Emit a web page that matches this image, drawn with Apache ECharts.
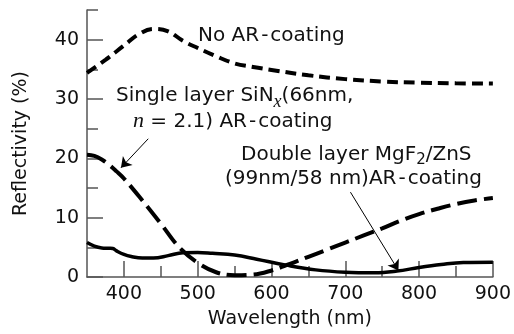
<!DOCTYPE html>
<html><head><meta charset="utf-8">
<script src="https://cdn.jsdelivr.net/npm/echarts@6/dist/echarts.min.js"></script>
<style>html,body{margin:0;padding:0;background:#fff}#c{width:514px;height:334px}</style>
</head><body><div id="c"></div>
<script>
// ---- data ----
const noArWl = [350,375,400,420,440,460,480,500,525,550,575,600,650,700,750,800,850,900];
const noArR  = [34.4,36.6,39.0,40.9,41.8,41.4,39.8,38.6,37.2,36.0,35.4,34.9,34.0,33.35,32.95,32.75,32.65,32.6];

const singleWl = [350,360,370,380,390,400,425,450,475,500,525,550,575,600,625,650,675,700,725,750,775,800,825,850,875,900];
const singleR  = [20.6,20.4,19.8,18.9,17.8,16.6,12.9,9.0,5.0,2.4,0.8,0.3,0.4,1.1,2.2,3.4,4.6,5.8,7.0,8.2,9.5,10.6,11.5,12.3,12.9,13.3];

const doubleWl = [350,360,370,380,385,390,400,410,425,440,460,480,500,520,550,580,620,660,700,740,770,800,830,860,900];
const doubleR  = [5.8,5.2,4.9,4.85,4.8,4.4,3.8,3.45,3.2,3.2,3.6,4.1,4.15,4.0,3.7,3.0,2.0,1.2,0.8,0.7,1.0,1.6,2.1,2.45,2.5];

const xMajorTicks = [400,500,600,700,800,900];
const xMinorTicks = [450,550,650,750,850];
const yMajorTicks = [0,10,20,30,40];
const yMinorTicks = [5,15,25,35,45];

// annotation arrows (data coordinates: [wavelength, reflectivity])
const singleArrow = [[433,23.3],[396,18.4]];
const doubleArrow = [[707,14.3],[772,1.1]];

const zip = (a,b) => a.map((v,i)=>[v,b[i]]);
const FONT = '"DejaVu Sans", sans-serif';
const axisCol = '#555';

const chart = echarts.init(document.getElementById('c'), null, {renderer:'canvas'});

const baseX = {type:'value', min:350, max:900, gridIndex:0, position:'bottom', splitLine:{show:false}};
const baseY = {type:'value', min:0, max:45, gridIndex:0, position:'left', splitLine:{show:false}};

const arrowLine = (pts) => ({
  silent:true, animation:false,
  symbol:['none','arrow'], symbolSize:10,
  lineStyle:{color:'#000', width:1, type:'solid'},
  label:{show:false},
  data:[[{coord:pts[0]},{coord:pts[1]}]]
});

chart.setOption({
  animation:false,
  backgroundColor:'#fff',
  grid:{left:87, right:20, top:10, bottom:57, containLabel:false},
  xAxis:[
    Object.assign({}, baseX, {
      axisLine:{show:true, lineStyle:{color:axisCol, width:1.5}},
      axisTick:{show:true, inside:true, length:16, customValues:xMajorTicks, lineStyle:{color:axisCol, width:1.5}},
      axisLabel:{show:true, customValues:xMajorTicks, color:'#111', fontFamily:FONT, fontSize:19, margin:8},
      name:'Wavelength (nm)', nameLocation:'middle', nameGap:33,
      nameTextStyle:{color:'#111', fontFamily:FONT, fontSize:19}
    }),
    Object.assign({}, baseX, {
      axisLine:{show:false},
      axisTick:{show:true, inside:true, length:11, customValues:xMinorTicks, lineStyle:{color:axisCol, width:1.5}},
      axisLabel:{show:false}
    })
  ],
  yAxis:[
    Object.assign({}, baseY, {
      axisLine:{show:true, lineStyle:{color:axisCol, width:1.5}},
      axisTick:{show:true, inside:true, length:16, customValues:yMajorTicks, lineStyle:{color:axisCol, width:1.5}},
      axisLabel:{show:true, customValues:yMajorTicks, color:'#111', fontFamily:FONT, fontSize:19, margin:8},
      name:'Reflectivity (%)', nameLocation:'middle', nameGap:56,
      nameTextStyle:{color:'#111', fontFamily:FONT, fontSize:19}
    }),
    Object.assign({}, baseY, {
      axisLine:{show:false},
      axisTick:{show:true, inside:true, length:11, customValues:yMinorTicks, lineStyle:{color:axisCol, width:1.5}},
      axisLabel:{show:false}
    })
  ],
  series:[
    {type:'line', name:'No AR-coating', data:zip(noArWl,noArR), showSymbol:false, smooth:0.4,
     lineStyle:{color:'#000', width:4, type:[11,6], cap:'butt'}},
    {type:'line', name:'Single layer', data:zip(singleWl,singleR), showSymbol:false, smooth:0.4,
     lineStyle:{color:'#000', width:4, type:[20,7], cap:'butt'},
     markLine:arrowLine(singleArrow)},
    {type:'line', name:'Double layer', data:zip(doubleWl,doubleR), showSymbol:false, smooth:0.4,
     lineStyle:{color:'#000', width:3.5, type:'solid'},
     markLine:arrowLine(doubleArrow)}
  ],
  graphic:[
    {type:'text', left:198, top:26, style:{text:'No AR\u200A-\u200Acoating', font:'20px "DejaVu Sans"', fill:'#111'}},
    {type:'text', left:116, top:86, style:{
      text:'{a|Single layer SiN}{s|x}{a|(66nm,}', fill:'#111',
      rich:{a:{fontFamily:FONT, fontSize:20, lineHeight:24, verticalAlign:'bottom'},
            s:{fontFamily:'"Liberation Serif", serif', fontStyle:'italic', fontSize:18, lineHeight:18, verticalAlign:'bottom', padding:[0,0,-5,0]}}}},
    {type:'text', left:133, top:110, style:{
      text:'{i|n}{a| = 2.1) AR\u200A-\u200Acoating}', fill:'#111',
      rich:{a:{fontFamily:FONT, fontSize:20, lineHeight:24, verticalAlign:'bottom'},
            i:{fontFamily:'"Liberation Serif", serif', fontStyle:'italic', fontSize:22, lineHeight:24, verticalAlign:'bottom'}}}},
    {type:'text', left:241, top:145, style:{
      text:'{a|Double layer MgF}{s|2}{a|/ZnS}', fill:'#111',
      rich:{a:{fontFamily:FONT, fontSize:20, lineHeight:24, verticalAlign:'bottom'},
            s:{fontFamily:FONT, fontSize:15, lineHeight:15, verticalAlign:'bottom', padding:[0,0,-3,0]}}}},
    {type:'text', left:225, top:169, style:{text:'(99nm/58 nm)AR\u200A-\u200Acoating', font:'20px "DejaVu Sans"', fill:'#111'}}
  ]
});
</script></body></html>
